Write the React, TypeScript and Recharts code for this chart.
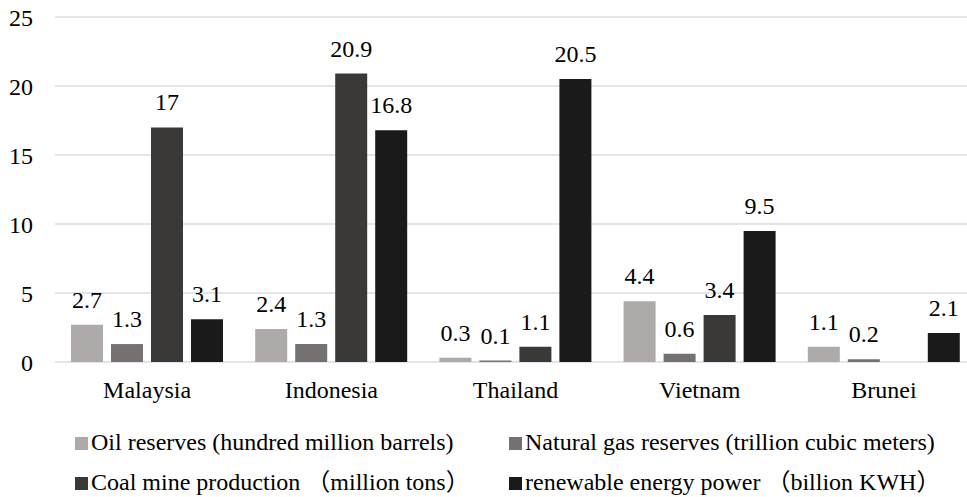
import React from "react";
import { BarChart, Bar, XAxis, YAxis, CartesianGrid, LabelList } from "recharts";

const countries = ["Malaysia", "Indonesia", "Thailand", "Vietnam", "Brunei"];
const oilReserves = [2.7, 2.4, 0.3, 4.4, 1.1];
const gasReserves = [1.3, 1.3, 0.1, 0.6, 0.2];
const coalProduction: (number | null)[] = [17, 20.9, 1.1, 3.4, null];
const renewablePower = [3.1, 16.8, 20.5, 9.5, 2.1];
const yTicks = [0, 5, 10, 15, 20, 25];

const seriesKeys = ["oil", "gas", "coal", "renew"];
const seriesNames = [
  "Oil reserves (hundred million barrels)",
  "Natural gas reserves (trillion cubic meters)",
  "Coal mine production （million tons）",
  "renewable energy power （billion KWH）",
];
const seriesColors = ["#AEAAAA", "#767171", "#3B3838", "#1A1A1A"];

const data = countries.map((name, i) => ({
  name,
  oil: oilReserves[i],
  gas: gasReserves[i],
  coal: coalProduction[i],
  renew: renewablePower[i],
}));

const FONT = "Liberation Serif, Noto Sans CJK SC, serif";
const TEXT = "#000000";

// legend: two columns, two rows
const legendCols = [75, 509];
const legendRows = [437, 477];

export default function App() {
  return (
    <div
      style={{
        position: "absolute",
        left: 0,
        top: 0,
        width: 967,
        height: 497,
        overflow: "hidden",
        background: "#ffffff",
      }}
    >
      <BarChart
        width={990}
        height={497}
        data={data}
        margin={{ top: 17, right: 14, bottom: 105, left: 0 }}
        barSize={32}
        barGap={8}
      >
        <CartesianGrid vertical={false} stroke="#D9DEE6" strokeWidth={1.5} />
        <XAxis
          dataKey="name"
          axisLine={false}
          tickLine={false}
          tickMargin={13}
          height={30}
          tick={{ fill: TEXT, fontSize: 24, fontFamily: FONT }}
        />
        <YAxis
          width={55}
          domain={[0, 25]}
          ticks={yTicks}
          axisLine={false}
          tickLine={false}
          tickMargin={16}
          tick={{ fill: TEXT, fontSize: 24, fontFamily: FONT }}
        />
        {seriesKeys.map((key, i) => (
          <Bar
            key={key}
            dataKey={key}
            name={seriesNames[i]}
            fill={seriesColors[i]}
            isAnimationActive={false}
          >
            <LabelList
              dataKey={key}
              position="top"
              offset={17}
              fill={TEXT}
              fontSize={24}
              fontFamily={FONT}
            />
          </Bar>
        ))}
      </BarChart>
      <svg
        width={967}
        height={97}
        style={{ position: "absolute", left: 0, top: 400 }}
      >
        {seriesNames.map((label, i) => {
          const x = legendCols[i % 2];
          const y = legendRows[Math.floor(i / 2)] - 400;
          return (
            <g key={label}>
              <rect x={x} y={y} width={13} height={13} fill={seriesColors[i]} />
              <text
                x={x + 16}
                y={y + 13}
                fill={TEXT}
                fontSize={24}
                fontFamily={FONT}
              >
                {label}
              </text>
            </g>
          );
        })}
      </svg>
    </div>
  );
}
